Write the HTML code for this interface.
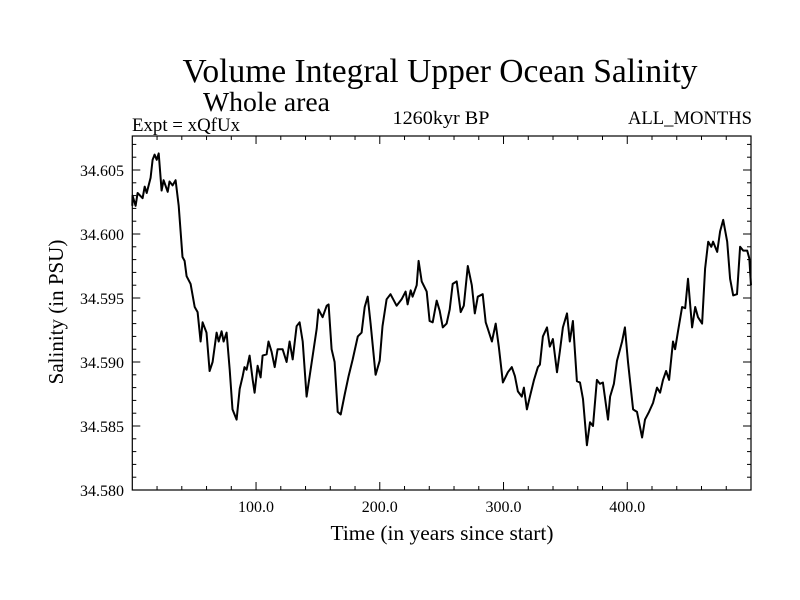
<!DOCTYPE html>
<html><head><meta charset="utf-8"><style>
html,body{margin:0;padding:0;background:#fff;}
svg{display:block;font-family:"Liberation Serif",serif;}
</style></head><body>
<svg id="chart" width="800" height="600" viewBox="0 0 800 600">
<text x="440" y="82" font-size="34" text-anchor="middle" textLength="515" lengthAdjust="spacingAndGlyphs">Volume Integral Upper Ocean Salinity</text>
<text x="203" y="111" font-size="27" textLength="127" lengthAdjust="spacingAndGlyphs">Whole area</text>
<text x="132" y="131" font-size="19" textLength="108" lengthAdjust="spacingAndGlyphs">Expt = xQfUx</text>
<text x="441" y="124" font-size="19" text-anchor="middle" textLength="97" lengthAdjust="spacingAndGlyphs">1260kyr BP</text>
<text x="752" y="124" font-size="19" text-anchor="end" textLength="124" lengthAdjust="spacingAndGlyphs">ALL_MONTHS</text>
<text x="442" y="540" font-size="21" text-anchor="middle" textLength="223" lengthAdjust="spacingAndGlyphs">Time (in years since start)</text>
<text transform="translate(63,312) rotate(-90)" font-size="21" text-anchor="middle">Salinity (in PSU)</text>
<g id="axes"></g>
<rect x="132.3" y="136" width="618.7" height="354" fill="none" stroke="#000" stroke-width="1.2"/>
</svg>
<script>
const years = [0,0.2,2.7,4.3,8.3,10.0,11.6,14.8,16.4,18.0,19.7,21.3,23.7,25.3,28.6,30.1,32.6,35.0,37.5,40.6,42.3,43.9,47.1,50.4,52.8,55.2,56.8,60.0,62.5,64.9,68.1,69.8,72.2,73.8,76.2,78.7,81.0,84.3,86.8,89.2,90.7,92.4,94.8,97.3,98.8,101.3,103.7,105.3,108.5,110.1,112.6,115.1,117.4,121.5,124.7,127.1,129.6,132.8,135.2,137.7,140.9,145.8,149.0,150.5,153.8,157.1,158.6,161.1,163.5,166.0,
168.4,171.7,174.8,178.1,182.2,185.3,187.8,190.2,192.6,196.6,199.9,202.2,205.5,208.7,213.6,217.6,220.9,222.5,225.0,226.5,229.8,231.4,233.9,237.9,240.3,242.8,246.0,248.4,250.9,254.0,256.5,258.9,262.2,265.4,267.9,271.1,274.4,276.8,279.2,283.2,285.6,287.3,290.6,293.7,296.2,299.5,303.5,306.7,309.2,311.6,314.8,316.5,318.9,321.3,324.6,327.8,329.4,
331.8,335.1,337.4,339.9,343.2,345.5,348.0,351.3,353.6,356.1,359.3,361.8,364.2,367.4,369.9,372.3,375.5,377.9,380.3,384.4,386.1,389.2,391.7,395.8,398.1,400.6,404.7,407.9,412.0,414.3,417.6,420.8,424.0,426.5,428.9,431.4,433.8,437.0,438.7,441.0,444.3,446.8,449.1,452.4,454.9,457.2,460.5,462.9,465.4,467.9,469.4,472.7,475.0,477.5,480.8,483.1,485.6,488.7,491.2,493.7,496.9,498.6,500];
const salinity = [34.6022,34.6030,34.6022,34.6032,34.6028,34.6037,34.6032,34.6044,34.6058,34.6062,34.6058,34.6063,34.6034,34.6042,34.6033,34.6041,34.6038,34.6042,34.6022,34.5982,34.5979,34.5967,34.5961,34.5943,34.5939,34.5916,34.5931,34.5923,34.5893,34.5900,34.5923,34.5916,34.5924,34.5916,34.5923,34.5894,34.5863,34.5855,34.5879,34.5889,34.5896,34.5894,34.5905,34.5886,34.5876,34.5897,34.5888,34.5905,34.5906,34.5916,34.5908,34.5896,34.5910,34.5910,34.5900,34.5916,34.5902,34.5928,34.5931,34.5916,34.5873,34.5905,34.5926,34.5941,34.5935,34.5944,34.5945,34.5910,34.5900,34.5861,
34.5859,34.5875,34.5889,34.5902,34.5920,34.5923,34.5943,34.5951,34.5930,34.5890,34.5901,34.5928,34.5949,34.5953,34.5944,34.5949,34.5955,34.5945,34.5956,34.5951,34.5960,34.5979,34.5963,34.5955,34.5932,34.5931,34.5948,34.5940,34.5927,34.5930,34.5941,34.5961,34.5963,34.5939,34.5944,34.5975,34.5960,34.5938,34.5951,34.5953,34.5931,34.5926,34.5916,34.5930,34.5912,34.5884,34.5892,34.5896,34.5889,34.5877,34.5873,34.5880,34.5863,34.5873,34.5886,34.5896,34.5898,
34.5920,34.5927,34.5912,34.5918,34.5892,34.5908,34.5927,34.5938,34.5916,34.5932,34.5885,34.5884,34.5871,34.5835,34.5853,34.5850,34.5886,34.5883,34.5884,34.5855,34.5873,34.5883,34.5901,34.5916,34.5927,34.5900,34.5863,34.5861,34.5841,34.5855,34.5861,34.5868,34.5880,34.5876,34.5886,34.5893,34.5886,34.5916,34.5910,34.5924,34.5943,34.5942,34.5965,34.5927,34.5943,34.5935,34.5930,34.5973,34.5994,34.5990,34.5994,34.5986,34.6002,34.6011,34.5994,34.5965,34.5952,34.5953,34.5990,34.5987,34.5987,34.5981,34.5960];
const xTickValues = [100,200,300,400];
const xTickLabels = ["100.0","200.0","300.0","400.0"];
const yTickValues = [34.580,34.585,34.590,34.595,34.600,34.605];
const yTickLabels = ["34.580","34.585","34.590","34.595","34.600","34.605"];

const X0=132.3, X1=751, Y0=490, Y1=136;
const XMIN=0, XMAX=500, YMIN=34.580, YPX=12.8/0.001;
function sx(v){return X0+(v-XMIN)*(X1-X0)/(XMAX-XMIN);}
function sy(v){return Y0-(v-YMIN)*YPX;}
const NS="http://www.w3.org/2000/svg";
const g=document.getElementById('axes');
function mk(tag,attrs){const e=document.createElementNS(NS,tag);for(const k in attrs)e.setAttribute(k,attrs[k]);return e;}

for(let v=20; v<500; v+=20){
  const major = v%100===0;
  const L = major?8:4;
  const x=sx(v);
  const t1=mk('line',{x1:x,x2:x,y1:Y0,y2:Y0-L,stroke:'#000','stroke-width':1});
  
  
  g.appendChild(t1);
  const t2=mk('line',{x1:x,x2:x,y1:Y1,y2:Y1+L,stroke:'#000','stroke-width':1});
  
  
  g.appendChild(t2);
}
xTickValues.forEach((v,i)=>{
  const t=mk('text',{x:sx(v),y:512,'font-size':16,'text-anchor':'middle'});
  t.textContent=xTickLabels[i];
  
  
  g.appendChild(t);
});
for(let k=1;k<28;k++){
  const v=YMIN+k*0.001;
  const major=k%5===0;
  const L=major?8:4;
  const y=sy(v);
  const t1=mk('line',{x1:X0,x2:X0+L,y1:y,y2:y,stroke:'#000','stroke-width':1});
  
  
  g.appendChild(t1);
  const t2=mk('line',{x1:X1,x2:X1-L,y1:y,y2:y,stroke:'#000','stroke-width':1});
  
  
  g.appendChild(t2);
}
yTickValues.forEach((v,i)=>{
  const t=mk('text',{x:124,y:sy(v)+6,'font-size':16,'text-anchor':'end'});
  t.textContent=yTickLabels[i];
  
  
  g.appendChild(t);
});
let d='';
years.forEach((yr,i)=>{d+=(i?'L':'M')+sx(yr).toFixed(1)+','+sy(salinity[i]).toFixed(1);});
const p=mk('path',{d:d,fill:'none',stroke:'#000','stroke-width':2,'stroke-linejoin':'round'});


g.appendChild(p);
</script>
</body></html>
